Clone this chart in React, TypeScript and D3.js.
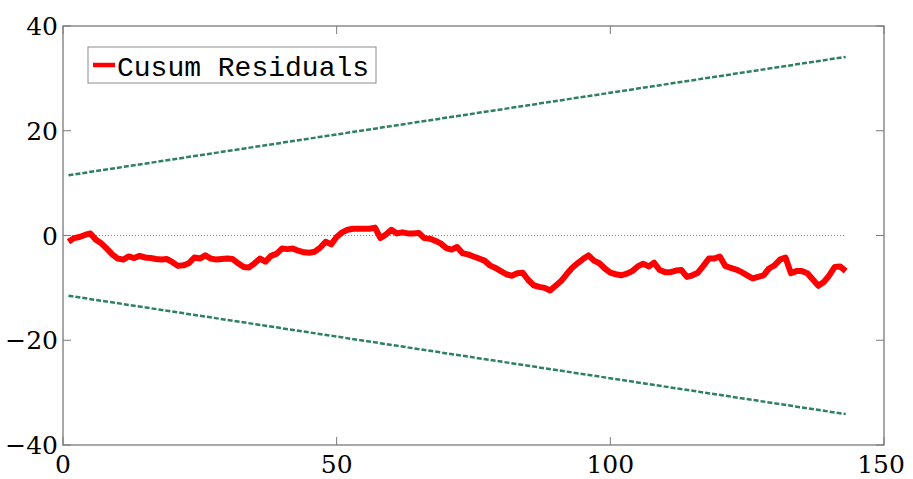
import React from "react";
import * as d3 from "d3";

// Recursive-residual CUSUM statistic, one value per observation t = 1..143
const cusum: number[] = [
  -1.2, -0.5, -0.3, 0.1, 0.4, -0.8, -1.5, -2.5, -3.6, -4.4,
  -4.6, -4.0, -4.3, -3.9, -4.2, -4.3, -4.5, -4.6, -4.5, -5.1,
  -5.8, -5.7, -5.3, -4.2, -4.4, -3.8, -4.4, -4.6, -4.5, -4.4,
  -4.5, -5.3, -6.0, -6.1, -5.3, -4.4, -5.0, -3.9, -3.5, -2.5,
  -2.6, -2.5, -2.9, -3.2, -3.3, -3.1, -2.3, -1.2, -1.7, -0.3,
  0.6, 1.1, 1.3, 1.3, 1.3, 1.3, 1.5, -0.5, 0.2, 1.1,
  0.4, 0.6, 0.4, 0.4, 0.5, -0.5, -0.6, -1.0, -1.5, -2.4,
  -2.7, -2.2, -3.4, -3.6, -4.0, -4.4, -4.8, -5.7, -6.2, -6.8,
  -7.4, -7.7, -7.2, -7.1, -8.5, -9.5, -9.8, -10.0, -10.5, -9.6,
  -8.7, -7.4, -6.2, -5.3, -4.5, -3.8, -4.8, -5.3, -6.3, -7.1,
  -7.4, -7.6, -7.3, -6.8, -5.9, -5.4, -5.9, -5.2, -6.6, -7.0,
  -7.0, -6.7, -6.6, -7.9, -7.6, -7.1, -5.8, -4.4, -4.4, -4.0,
  -5.8, -6.2, -6.5, -7.0, -7.6, -8.2, -7.9, -7.6, -6.3, -5.7,
  -4.6, -4.2, -7.2, -6.8, -6.8, -7.2, -8.4, -9.6, -8.9, -7.6,
  -6.0, -5.9, -6.8,
];

// 5% significance bounds: endpoints at the first and last observation
const boundT: number[] = [1, 143];
const upperBound: number[] = [11.5, 34.1];
const lowerBound: number[] = [-11.5, -34.1];

const xTicks: number[] = [0, 50, 100, 150];
const yTicks: number[] = [-40, -20, 0, 20, 40];
const legendLabel = "Cusum Residuals";

const W = 913;
const H = 479;
const M = { left: 63, right: 884, top: 26, bottom: 445 };

export default function App() {
  const x = d3.scaleLinear().domain([0, 150]).range([M.left, M.right]);
  const y = d3.scaleLinear().domain([-40, 40]).range([M.bottom, M.top]);

  const series = cusum.map((v, i) => ({ t: i + 1, v }));
  const line = d3
    .line<{ t: number; v: number }>()
    .x((d) => x(d.t))
    .y((d) => y(d.v));

  const upper = boundT.map((t, i) => ({ t, v: upperBound[i] }));
  const lower = boundT.map((t, i) => ({ t, v: lowerBound[i] }));

  const axisColor = "#7a7a7a";
  const tickLen = 8;
  const tickFont = "'DejaVu Serif', serif";

  return (
    <svg
      width={W}
      height={H}
      style={{ position: "absolute", left: 0, top: 0, background: "#fff" }}
    >
      {/* zero reference */}
      <line
        x1={x(0)}
        x2={x(143)}
        y1={y(0)}
        y2={y(0)}
        stroke="#7f7fc8"
        strokeWidth={1}
        strokeDasharray="1,2"
      />

      {/* bounds */}
      {[upper, lower].map((b, i) => (
        <path
          key={i}
          d={line(b) || ""}
          fill="none"
          stroke="#2f8060"
          strokeWidth={2.5}
          strokeDasharray="5,2"
        />
      ))}

      {/* CUSUM */}
      <path
        d={line(series) || ""}
        fill="none"
        stroke="#ff0000"
        strokeWidth={6}
        strokeLinejoin="round"
      />

      {/* axes box */}
      <rect
        x={M.left}
        y={M.top}
        width={M.right - M.left}
        height={M.bottom - M.top}
        fill="none"
        stroke={axisColor}
        strokeWidth={1.3}
      />

      {/* x ticks (inward, bottom and top) */}
      {xTicks.map((t) => (
        <g key={"x" + t}>
          <line x1={x(t)} x2={x(t)} y1={M.bottom} y2={M.bottom - tickLen} stroke={axisColor} />
          <line x1={x(t)} x2={x(t)} y1={M.top} y2={M.top + tickLen} stroke={axisColor} />
          <text
            x={t === 150 ? x(t) - 3 : x(t)}
            y={473}
            textAnchor="middle"
            fontFamily={tickFont}
            fontSize={25}
            fill="#000"
          >
            {t}
          </text>
        </g>
      ))}

      {/* y ticks (inward, left and right) */}
      {yTicks.map((t) => (
        <g key={"y" + t}>
          <line x1={M.left} x2={M.left + tickLen} y1={y(t)} y2={y(t)} stroke={axisColor} />
          <line x1={M.right} x2={M.right - tickLen} y1={y(t)} y2={y(t)} stroke={axisColor} />
          <text
            x={58}
            y={y(t) + 9}
            textAnchor="end"
            fontFamily={tickFont}
            fontSize={25}
            fill="#000"
          >
            {t < 0 ? "\u2212" + Math.abs(t) : t}
          </text>
        </g>
      ))}

      {/* legend */}
      <g>
        <rect x={88} y={47} width={288} height={36} fill="#fff" stroke="#8c8c8c" strokeWidth={1} />
        <line x1={93} x2={115} y1={65} y2={65} stroke="#ff0000" strokeWidth={4.5} />
        <text
          x={117}
          y={76}
          fontFamily="'Liberation Mono', 'DejaVu Sans Mono', monospace"
          fontSize={28}
          fill="#000"
        >
          {legendLabel}
        </text>
      </g>
    </svg>
  );
}
